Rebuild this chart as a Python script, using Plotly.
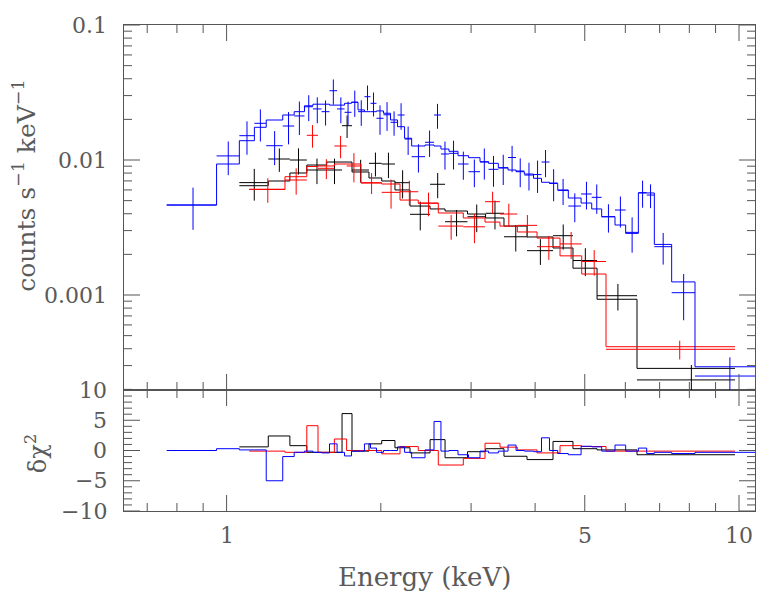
import math
import plotly.graph_objects as go

# ---------------- data ----------------
# channel bin edges in keV
blue_edges = [0.764, 0.956, 1.059, 1.133, 1.195, 1.287, 1.355, 1.419, 1.474, 1.532,
              1.588, 1.643, 1.699, 1.753, 1.805, 1.858, 1.909, 1.961, 2.024, 2.089,
              2.156, 2.225, 2.297, 2.439, 2.540, 2.620, 2.716, 2.829, 2.966, 3.123,
              3.245, 3.391, 3.542, 3.672, 3.811, 3.972, 4.117, 4.267, 4.428, 4.644,
              4.918, 5.159, 5.395, 5.728, 6.009, 6.362, 6.605, 6.835, 7.389, 8.206, 10.99]
blue_rate = [0.00464, 0.01072, 0.01514, 0.0187, 0.01276, 0.01786, 0.0212, 0.0248, 0.0239, 0.0228,
             0.0326, 0.0239, 0.02256, 0.02676, 0.0228, 0.02944, 0.0263, 0.02037, 0.02163, 0.01902,
             0.02154, 0.0143, 0.01058, 0.01353, 0.02154, 0.01108, 0.01121, 0.00934, 0.00819, 0.00966,
             0.00853, 0.00873, 0.01043, 0.00829, 0.00774, 0.0078, 0.00966, 0.00675, 0.00594, 0.00456,
             0.0056, 0.00529, 0.0038, 0.00426, 0.00291, 0.00573, 0.0055, 0.00228, 0.00104, 0.000251]
blue_err = [0.0016, 0.0030, 0.0042, 0.0050, 0.0036, 0.0048, 0.0059, 0.0054, 0.0052, 0.0048,
            0.0069, 0.0052, 0.0045, 0.0059, 0.0049, 0.0062, 0.0053, 0.0050, 0.0052, 0.0039,
            0.0048, 0.0034, 0.0025, 0.0030, 0.0045, 0.0026, 0.0027, 0.0022, 0.0019, 0.0025,
            0.0022, 0.0022, 0.0023, 0.0020, 0.0018, 0.0021, 0.0022, 0.0018, 0.0013, 0.0011,
            0.0013, 0.0013, 0.0009, 0.0011, 0.00085, 0.0013, 0.0011, 0.0006, 0.00039, 0.000094]
blue_model = [0.00464, 0.00934, 0.0139, 0.01747, 0.01978, 0.02154, 0.0228, 0.0252, 0.0259, 0.0259,
              0.0255, 0.0255, 0.0263, 0.0268, 0.0235, 0.0228, 0.0228, 0.0231, 0.0222, 0.0198,
              0.01765, 0.01449, 0.0127, 0.01292, 0.0127, 0.01206, 0.0116, 0.01076, 0.0104, 0.00971,
              0.00945, 0.00877, 0.00843, 0.00819, 0.00787, 0.00732, 0.00684, 0.0067, 0.006, 0.00523,
              0.0048, 0.00434, 0.0038, 0.0033, 0.00286, 0.0057, 0.0057, 0.00237, 0.00125, 0.000294]
blue_resid = [0.0, 0.3, 0.1, 0.1, -5.0, -1.0, -0.3, -0.1, -0.3, -0.4,
              1.1, -0.3, -0.9, -0.1, -0.1, 1.1, 0.4, -0.3, 0.0, 0.0,
              0.6, -0.3, -1.2, 0.1, 4.8, -0.1, 0.0, -0.7, -1.2, -0.1,
              -0.4, -0.1, 0.9, 0.0, -0.1, -0.2, 2.1, 0.0, -0.5, -0.7,
              0.7, 0.6, -0.1, 0.9, -0.1, 0.4, -0.5, -0.3, -0.5, -0.3]

black_edges = [1.059, 1.206, 1.329, 1.434, 1.568, 1.680, 1.757, 1.896, 2.008, 2.131, 2.280,
               2.495, 2.669, 2.952, 3.202, 3.478, 3.857, 4.335, 4.742, 5.284, 6.323, 9.822]
black_rate = [0.0068, 0.01017, 0.0100, 0.00843, 0.00843, 0.01795, 0.00843, 0.00945, 0.00934, 0.00679,
              0.00396, 0.00661, 0.00349, 0.0038, 0.00403, 0.0027, 0.00213, 0.00275, 0.0018, 0.000988,
              0.000235]
black_err = [0.0018, 0.0020, 0.0022, 0.0018, 0.0018, 0.0034, 0.0016, 0.0019, 0.0020, 0.0016,
             0.00095, 0.0014, 0.00077, 0.00088, 0.00097, 0.0006, 0.00046, 0.00058, 0.00042, 0.00022,
             0.000068]
black_model = [0.00645, 0.00699, 0.00801, 0.00918, 0.00966, 0.00966, 0.00815, 0.00736, 0.00699, 0.0060,
               0.00456, 0.00434, 0.00419, 0.00398, 0.00372, 0.00324, 0.00269, 0.00223, 0.00158, 0.00093,
               0.000286]
black_resid = [0.6, 2.4, 0.8, -0.3, -0.3, 6.1, -0.1, 1.1, 1.65, 0.45,
               -0.4, 1.8, -1.2, -0.2, 0.3, -0.95, -1.5, 1.5, 0.3, 0.1, -0.7]

red_edges = [1.107, 1.300, 1.434, 1.508, 1.623, 1.715, 1.829, 2.008, 2.180, 2.366,
             2.589, 2.897, 3.194, 3.416, 3.693, 4.035, 4.474, 4.932, 5.501, 9.822]
red_rate = [0.00607, 0.00711, 0.01524, 0.00868, 0.0127, 0.00903, 0.00679, 0.00576, 0.00582, 0.00478,
            0.00324, 0.0032, 0.00491, 0.00398, 0.00328, 0.00228, 0.00239, 0.00177, 0.000396]
red_err = [0.00125, 0.00157, 0.0029, 0.00146, 0.0024, 0.0022, 0.0012, 0.0014, 0.0012, 0.00095,
           0.00067, 0.00078, 0.00091, 0.00077, 0.00063, 0.00046, 0.00054, 0.00038, 0.000063]
red_model = [0.00605, 0.00752, 0.00895, 0.00903, 0.00934, 0.00934, 0.00675, 0.00664, 0.00505, 0.0048,
             0.00405, 0.00372, 0.00347, 0.00324, 0.00293, 0.00264, 0.00195, 0.00143, 0.000414]
red_resid = [-0.1, -0.3, 4.1, -0.3, 1.9, 0.0, 0.0, -0.55, 0.65, 0.0,
             -2.4, -1.3, 1.2, 0.55, 0.1, -0.4, 0.8, 0.66, -0.1]

# axis ticks
x_major = [1, 5, 10]
x_major_text = ["1", "5", "10"]
x_minor = [0.7, 0.8, 0.9, 2, 3, 4, 6, 7, 8, 9]
y_major = [0.001, 0.01, 0.1]
y_major_text = ["0.001", "0.01", "0.1"]
y_minor = [m * 10 ** p for p in (-4, -3, -2) for m in range(2, 10)]
r_major = [-10, -5, 0, 5, 10]
r_major_text = ["\u221210", "\u22125", "0", "5", "10"]
r_minor = [v for v in range(-10, 11) if v % 5 != 0]

# ---------------- layout geometry ----------------
# the page body adds an 8 px offset, so the figure is shifted by that amount
W, H = 756, 589
ML, MR, MT, MB = 116, 9, 17, 86
PW = W - ML - MR            # 631
PH = H - MT - MB            # 486
LOW_H = 121                 # residual panel height in px
UP_H = PH - LOW_H
split = LOW_H / PH

XR = [-0.2002, 1.0312]      # log10 keV
YR_UP = [-3.7037, -1.0]     # log10 counts
YR_LO = [-10, 10]

MAJ, MIN = 16, 8            # tick lengths, px
FONT = "DejaVu Serif"
TXT = "#5a5a5a"
AX = "#555555"

x_dec_px = PW / (XR[1] - XR[0])
y_dec_px = UP_H / (YR_UP[1] - YR_UP[0])
y_lin_px = LOW_H / (YR_LO[1] - YR_LO[0])

series = [
    ("#000000", black_edges, black_rate, black_err, black_model, black_resid),
    ("#ff0000", red_edges, red_rate, red_err, red_model, red_resid),
    ("#0000ff", blue_edges, blue_rate, blue_err, blue_model, blue_resid),
]

fig = go.Figure()
for color, edges, rate, err, model, resid in series:
    lo = edges[:-1]
    hi = edges[1:]
    cen = [(a + b) / 2 for a, b in zip(lo, hi)]
    fig.add_trace(go.Scatter(
        x=cen, y=rate, mode="markers",
        marker=dict(size=2, color="rgba(0,0,0,0)"),
        error_x=dict(type="data", symmetric=False,
                     array=[b - c for b, c in zip(hi, cen)],
                     arrayminus=[c - a for a, c in zip(lo, cen)],
                     color=color, thickness=1, width=0),
        error_y=dict(type="data", array=err, color=color, thickness=1, width=0),
        xaxis="x2", yaxis="y2", showlegend=False, hoverinfo="skip"))
    fig.add_trace(go.Scatter(
        x=edges, y=list(model) + [model[-1]], mode="lines", line_shape="hv",
        line=dict(color=color, width=1), xaxis="x2", yaxis="y2",
        showlegend=False, hoverinfo="skip"))
    fig.add_trace(go.Scatter(
        x=edges, y=list(resid) + [resid[-1]], mode="lines", line_shape="hv",
        line=dict(color=color, width=1), xaxis="x", yaxis="y",
        showlegend=False, hoverinfo="skip"))

# ---------------- inside ticks on all four sides of both panels ----------------
xlo, xhi = 10 ** XR[0], 10 ** XR[1]
ylo_u, yhi_u = 10 ** YR_UP[0], 10 ** YR_UP[1]


def xticks_upper():
    xs, ys = [], []
    for vals, L in ((x_major, MAJ), (x_minor, MIN)):
        f = 10 ** (L / y_dec_px)
        for v in vals:
            xs += [v, v, None, v, v, None]
            ys += [ylo_u, ylo_u * f, None, yhi_u, yhi_u / f, None]
    return xs, ys


def yticks_upper():
    xs, ys = [], []
    for vals, L in ((y_major, MAJ), (y_minor, MIN)):
        f = 10 ** (L / x_dec_px)
        for v in vals:
            xs += [xlo, xlo * f, None, xhi, xhi / f, None]
            ys += [v, v, None, v, v, None]
    return xs, ys


def xticks_lower():
    xs, ys = [], []
    for vals, L in ((x_major, MAJ), (x_minor, MIN)):
        d = L / y_lin_px
        for v in vals:
            xs += [v, v, None, v, v, None]
            ys += [YR_LO[0], YR_LO[0] + d, None, YR_LO[1], YR_LO[1] - d, None]
    return xs, ys


def yticks_lower():
    xs, ys = [], []
    for vals, L in ((r_major, MAJ), (r_minor, MIN)):
        f = 10 ** (L / x_dec_px)
        for v in vals:
            xs += [xlo, xlo * f, None, xhi, xhi / f, None]
            ys += [v, v, None, v, v, None]
    return xs, ys


for fn, xa, ya in ((xticks_upper, "x2", "y2"), (yticks_upper, "x2", "y2"),
                   (xticks_lower, "x", "y"), (yticks_lower, "x", "y")):
    tx, ty = fn()
    fig.add_trace(go.Scatter(x=tx, y=ty, mode="lines", line=dict(color=AX, width=1),
                             xaxis=xa, yaxis=ya, showlegend=False, hoverinfo="skip",
                             connectgaps=False))

axis_common = dict(showline=True, linecolor=AX, linewidth=1, mirror=True,
                   ticks="", showticklabels=False, showgrid=False, zeroline=False,
                   automargin=False)

# ---------------- tick labels and titles as text ----------------
ann = []
lab_font = dict(family=FONT, size=22, color=TXT)
for v, t in zip(x_major, x_major_text):
    ann.append(dict(text=t, x=math.log10(v), xref="x", y=-24 / PH, yref="paper",
                    showarrow=False, font=lab_font, xanchor="center", yanchor="middle"))
for v, t in zip(y_major, y_major_text):
    ann.append(dict(text=t, x=-15 / PW, xref="paper", y=math.log10(v), yref="y2",
                    showarrow=False, font=lab_font, xanchor="right", yanchor="middle"))
for v, t in zip(r_major, r_major_text):
    ann.append(dict(text=t, x=-15 / PW, xref="paper", y=v, yref="y",
                    showarrow=False, font=lab_font, xanchor="right", yanchor="middle"))
ann += [
    dict(text="Energy (keV)", xref="paper", yref="paper", x=0.477, y=-0.136,
         showarrow=False, font=dict(family=FONT, size=26, color=TXT),
         xanchor="center", yanchor="middle"),
    dict(text="counts s<sup>\u22121</sup> keV<sup>\u22121</sup>", xref="paper", yref="paper",
         x=-0.157, y=0.671, textangle=-90, showarrow=False,
         font=dict(family=FONT, size=25, color=TXT), xanchor="center", yanchor="middle"),
    dict(text="\u03b4\u03c7<sup>2</sup>", xref="paper", yref="paper",
         x=-0.14, y=0.118, textangle=-90, showarrow=False,
         font=dict(family=FONT, size=24, color=TXT), xanchor="center", yanchor="middle"),
]

fig.update_layout(
    width=W, height=H,
    margin=dict(l=ML, r=MR, t=MT, b=MB, autoexpand=False),
    paper_bgcolor="white", plot_bgcolor="white",
    xaxis=dict(type="log", range=XR, domain=[0, 1], anchor="y", **axis_common),
    xaxis2=dict(type="log", range=XR, domain=[0, 1], anchor="y2", matches="x", **axis_common),
    yaxis=dict(range=YR_LO, domain=[0, split], anchor="x", **axis_common),
    yaxis2=dict(type="log", range=YR_UP, domain=[split, 1], anchor="x2", **axis_common),
    annotations=ann,
)

fig.write_html("out.html")
